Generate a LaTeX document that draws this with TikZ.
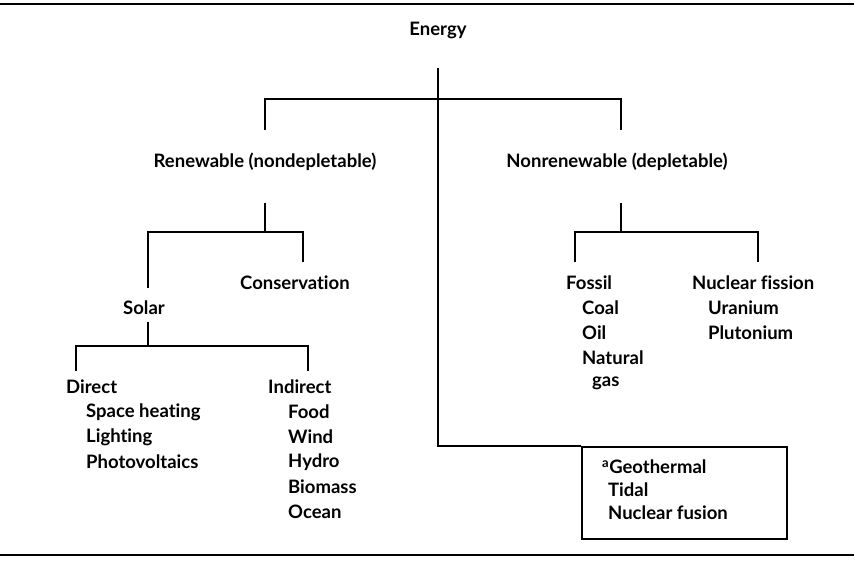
\documentclass[tikz,border=0pt]{standalone}
\usepackage{fontspec}
\setmainfont{Lato}[Ligatures=NoCommon]
\begin{document}
\begin{tikzpicture}[x=1pt,y=-1pt,
  lbl/.style={font=\bfseries\fontsize{18.5}{21}\selectfont, inner sep=0pt},
  itm/.style={lbl, anchor=west},
  ln/.style={line width=1.6pt},
  rulel/.style={line width=2.4pt}]
\useasboundingbox (0,0) rectangle (854,571);
% rules
\coordinate (rtl) at (0,4); \coordinate (rtr) at (854,4);
\coordinate (rbl) at (0,555); \coordinate (rbr) at (854,555);
\draw[rulel] (rtl) -- (rtr);
\draw[rulel] (rbl) -- (rbr);
% labels
\node[lbl] (energy) at (438,30) {Energy};
\node[lbl] (ren) at (265,162) {Renewable (nondepletable)};
\node[lbl] (nonren) at (617,162) {Nonrenewable (depletable)};
\node[itm] (cons) at (240,283) {Conservation};
\node[lbl] (solar) at (144,308) {Solar};
\node[itm] (direct) at (66,387) {Direct};
\node[itm] (space) at (86,412) {Space heating};
\node[itm] (light) at (86,437) {Lighting};
\node[itm] (photo) at (86,462) {Photovoltaics};
\node[itm] (indirect) at (268,387) {Indirect};
\node[itm] (food) at (288,412) {Food};
\node[itm] (wind) at (288,437) {Wind};
\node[itm] (hydro) at (288,462) {Hydro};
\node[itm] (bio) at (288,487) {Biomass};
\node[itm] (ocean) at (288,512) {Ocean};
\node[itm] (fossil) at (566,283) {Fossil};
\node[itm] (coal) at (582,308) {Coal};
\node[itm] (oil) at (582,333) {Oil};
\node[itm] (natural) at (582,358) {Natural};
\node[itm] (gas) at (592,383) {gas};
\node[itm] (fission) at (692,283) {Nuclear fission};
\node[itm] (uran) at (708,308) {Uranium};
\node[itm] (pluto) at (708,333) {Plutonium};
% box
\node[draw, ln, inner sep=0pt, minimum width=205pt, minimum height=92pt, anchor=north west] (box) at (581,446) {};
\node[itm] (geo) at (602,467) {\textsuperscript{a}Geothermal};
\node[itm] (tidal) at (608,490) {Tidal};
\node[itm] (fusion) at (608,513) {Nuclear fusion};
% top bracket
\coordinate (e0) at (438,68);
\coordinate (e1) at (438,99);
\coordinate (eL) at (265,99); \coordinate (eLd) at (265,130);
\coordinate (eR) at (621,99); \coordinate (eRd) at (621,130);
\coordinate (eB) at (438,446);
\draw[ln] (e0) -- (eB) -- (box.north west);
\draw[ln] (eLd) -- (eL) -- (eR) -- (eRd);
% renewable bracket
\coordinate (r0) at (265,203); \coordinate (r1) at (265,232);
\coordinate (rL) at (148,232); \coordinate (rLd) at (148,288);
\coordinate (rR) at (303,232); \coordinate (rRd) at (303,262);
\draw[ln] (r0) -- (r1);
\draw[ln] (rLd) -- (rL) -- (rR) -- (rRd);
% solar bracket
\coordinate (s0) at (148,322); \coordinate (s1) at (148,346);
\coordinate (sL) at (76,346); \coordinate (sLd) at (76,371);
\coordinate (sR) at (308,346); \coordinate (sRd) at (308,371);
\draw[ln] (s0) -- (s1);
\draw[ln] (sLd) -- (sL) -- (sR) -- (sRd);
% nonrenewable bracket
\coordinate (n0) at (621,203); \coordinate (n1) at (621,232);
\coordinate (nL) at (575,232); \coordinate (nLd) at (575,262);
\coordinate (nR) at (758,232); \coordinate (nRd) at (758,262);
\draw[ln] (n0) -- (n1);
\draw[ln] (nLd) -- (nL) -- (nR) -- (nRd);
\end{tikzpicture}
\end{document}
